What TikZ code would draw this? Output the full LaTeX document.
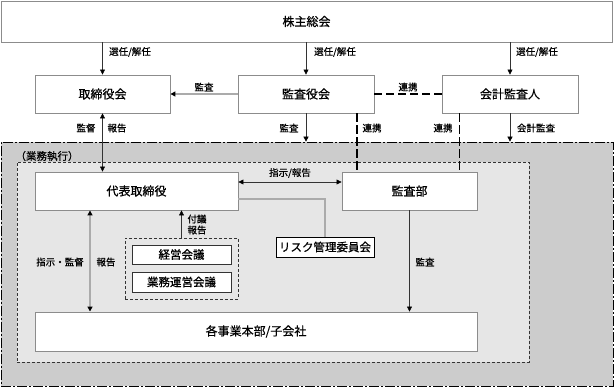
\documentclass[tikz,border=0pt]{standalone}
\usepackage{fontspec}
\setmainfont{Noto Sans CJK JP}[FakeBold=0.6]
\usetikzlibrary{arrows.meta,calc}
\definecolor{outerfill}{HTML}{CCCCCC}
\definecolor{innerfill}{HTML}{E6E6E6}
\definecolor{boxline}{HTML}{8C8C8C}
\definecolor{greyline}{HTML}{ABABAB}
\definecolor{darkline}{HTML}{333333}
\begin{document}
\begin{tikzpicture}[x=1pt,y=-1pt,
  box/.style={draw=boxline,line width=0.9pt,fill=white,inner sep=0pt,font=\fontsize{12}{12}\selectfont},
  smallbox/.style={draw=darkline,line width=0.7pt,fill=white,inner sep=0pt,font=\fontsize{11.5}{12}\selectfont},
  lbl/.style={font=\fontsize{9.5}{10}\selectfont,inner sep=0pt},
  tip/.style={-{Triangle[width=5pt,length=5pt,color=black]}},
  dtip/.style={{Triangle[width=5pt,length=5pt,color=black]}-{Triangle[width=5pt,length=5pt,color=black]}},
  thinarr/.style={draw=darkline,line width=0.6pt},
  greyarr/.style={draw=greyline,line width=1.5pt},
  linkdash/.style={draw=black,line width=1.3pt,dash pattern=on 8pt off 4pt}]
\useasboundingbox (0,0) rectangle (614,387);
% regions
\node[draw=black,line width=0.7pt,dash pattern=on 10pt off 2pt on 2pt off 2pt,fill=outerfill,minimum width=612pt,minimum height=244pt,inner sep=0pt] (outer) at (307,264) {};
\node[draw=darkline,line width=0.6pt,dash pattern=on 3pt off 2pt,fill=innerfill,minimum width=512pt,minimum height=200pt,inner sep=0pt] (inner) at (273,262) {};
\node[lbl,font=\fontsize{10.5}{11}\selectfont] (gyomulbl) at (47,156) {（業務執行）};
% boxes
\node[box,minimum width=611pt,minimum height=41pt] (top) at (306.5,21.5) {株主総会};
\node[box,minimum width=135pt,minimum height=38pt] (tori) at (102.5,94) {取締役会};
\node[box,minimum width=136pt,minimum height=38pt] (kansayaku) at (306,94) {監査役会};
\node[box,minimum width=136pt,minimum height=38pt] (kaikei) at (510,94) {会計監査人};
\node[box,minimum width=203pt,minimum height=38pt] (daihyo) at (136.5,191) {代表取締役};
\node[box,minimum width=135pt,minimum height=38pt] (kansabu) at (409.5,191) {監査部};
\node[smallbox,draw=black,minimum width=98pt,minimum height=20pt] (risk) at (325,247) {リスク管理委員会};
\node[draw=darkline,line width=0.6pt,dash pattern=on 3pt off 2pt,minimum width=113pt,minimum height=61pt,inner sep=0pt] (group) at (181.5,268.5) {};
\node[smallbox,minimum width=99pt,minimum height=19pt] (keiei) at (181.5,254.5) {経営会議};
\node[smallbox,minimum width=99pt,minimum height=20pt] (gyomu) at (181.5,282) {業務運営会議};
\node[box,minimum width=442pt,minimum height=39pt] (kaku) at (256,331.5) {各事業本部/子会社};
% top arrows
\draw[thinarr,tip] (top.south -| tori.north) -- (tori.north);
\node[lbl] (l1) at (130,52) {選任/解任};
\draw[thinarr,tip] (top.south -| kansayaku.north) -- (kansayaku.north);
\node[lbl] (l2) at (335,52) {選任/解任};
\draw[thinarr,tip] (top.south -| kaikei.north) -- (kaikei.north);
\node[lbl] (l3) at (537,52) {選任/解任};
% middle row
\draw[greyarr,tip] (kansayaku.west) -- (tori.east);
\node[lbl] (l4) at (204,87) {監査};
\draw[linkdash] (kansayaku.east) -- (kaikei.west);
\node[lbl] (l5) at (408,87) {連携};
% down from kansayaku
\draw[thinarr,tip] (kansayaku.south) -- (kansayaku.south |- outer.north);
\node[lbl] (l6) at (289,128) {監査};
\draw[linkdash,dash pattern=on 9pt off 3pt] ([xshift=51pt]kansayaku.south) -- ([xshift=51pt]kansayaku.south |- kansabu.north);
\node[lbl] (l7) at (372,128) {連携};
\draw[linkdash,dash pattern=on 9pt off 3pt] ([xshift=-50.5pt]kaikei.south) -- ([xshift=-50.5pt]kaikei.south |- kansabu.north);
\node[lbl] (l8) at (443,128) {連携};
\draw[thinarr,tip] (kaikei.south) -- (kaikei.south |- outer.north);
\node[lbl] (l9) at (536,128) {会計監査};
% tori <-> daihyo
\draw[thinarr,dtip] (tori.south) -- (tori.south |- daihyo.north);
\node[lbl] (l10) at (86,128) {監督};
\node[lbl] (l11) at (117,128) {報告};
% daihyo <-> kansabu
\draw[thinarr,dtip] ([yshift=9pt]daihyo.east) -- ([yshift=9pt]daihyo.east -| kansabu.west);
\node[lbl] (l12) at (290,173) {指示/報告};
% grey line to risk
\draw[greyarr] ([yshift=-8pt]daihyo.east) -| (risk.north);
% group -> daihyo
\draw[thinarr,tip] (group.north) -- (group.north |- daihyo.south);
\node[lbl] (l13) at (197,219) {付議};
\node[lbl] (l14) at (197,230) {報告};
% daihyo <-> kaku
\draw[greyarr,dtip] ([xshift=-46.5pt]daihyo.south) -- ([xshift=-46.5pt]daihyo.south |- kaku.north);
\node[lbl] (l15) at (60,262) {指示・監督};
\node[lbl] (l16) at (106,262) {報告};
% kansabu -> kaku
\draw[thinarr,tip] (kansabu.south) -- (kansabu.south |- kaku.north);
\node[lbl] (l17) at (425,262) {監査};
\end{tikzpicture}
\end{document}
